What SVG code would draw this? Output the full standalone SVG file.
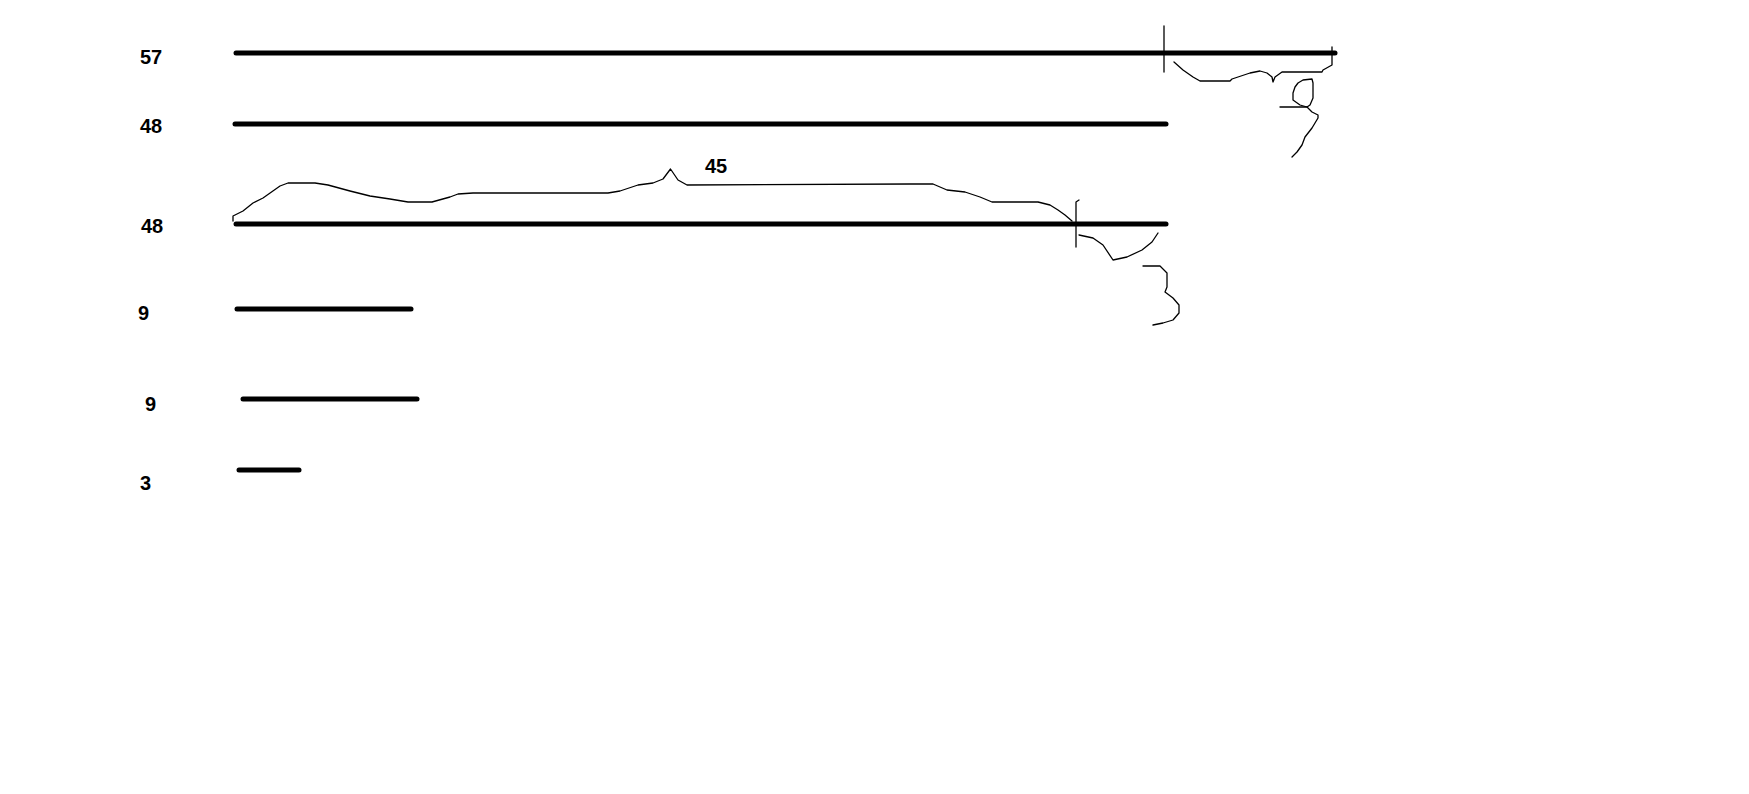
<svg xmlns="http://www.w3.org/2000/svg" width="1749" height="794" viewBox="0 0 1749 794">
<style>
.lbl{font-family:"Liberation Sans",Arial,sans-serif;font-weight:bold;font-size:20px;fill:#000}
.bar{stroke:#000;stroke-width:5;stroke-linecap:round;fill:none}
.hand{stroke:#000;stroke-width:1.3;fill:none;stroke-linejoin:round;stroke-linecap:round}
</style>
<rect width="1749" height="794" fill="#fff"/>
<g id="row-57">
<text class="lbl" x="140" y="64">57</text>
<line class="bar" x1="236" y1="53" x2="1335" y2="53"/>
</g>
<g id="row-48a">
<text class="lbl" x="140" y="133">48</text>
<line class="bar" x1="235" y1="124" x2="1166" y2="124"/>
</g>
<g id="row-48b">
<text class="lbl" x="141" y="233">48</text>
<line class="bar" x1="236" y1="224" x2="1166" y2="224"/>
</g>
<g id="row-9a">
<text class="lbl" x="138" y="320">9</text>
<line class="bar" x1="237" y1="309" x2="411" y2="309"/>
</g>
<g id="row-9b">
<text class="lbl" x="145" y="411">9</text>
<line class="bar" x1="243" y1="399" x2="417" y2="399"/>
</g>
<g id="row-3">
<text class="lbl" x="140" y="490">3</text>
<line class="bar" x1="239" y1="470" x2="299" y2="470"/>
</g>
<g id="brace-45">
<path class="hand" d="M233,221 L233,216 L243,211 L253,203 L263,198 L280,186 L288,183 L315,183 L328,185 L350,191 L370,196 L390,199 L408,202 L432,202 L450,197 L458,194 L473,193 L608,193 L620,191 L638,185 L653,183 L663,179 L670.5,169 L678,180 L687,185 L910,184 L933,184 L947,190 L965,192 L980,197 L992,202 L1038,202 L1050,205 L1058,210 L1065,215 L1072,221"/>
<text class="lbl" x="705" y="173">45</text>
</g>
<g id="annotation-3">
<path class="hand" d="M1076,247 L1076,202 L1079,200"/>
<path class="hand" d="M1079,235 L1093,238 L1103,245 L1113,260 L1127,257 L1142,250 L1152,242 L1158,233"/>
<path class="hand" d="M1143,266 L1160,266 L1167,273 L1167,287 L1165,292 L1173,298 L1179,305 L1179,313 L1173,320 L1163,323 L1153,325"/>
</g>
<g id="annotation-9">
<path class="hand" d="M1164,26 L1164,72"/>
<path class="hand" d="M1332,47 L1332,65 L1323,70 L1322,72 L1282,72 L1275,77 L1273,82 L1272,77 L1267,73 L1260,71 L1250,73 L1232,79 L1230,81 L1200,81 L1193,77 L1183,70 L1174,62"/>
<path class="hand" d="M1303,80 L1312,79 L1313,83 L1313,98 L1310,105 L1307,107 L1300,105 L1293,100 L1293,93 L1295,87 L1298,83 Z"/>
<path class="hand" d="M1280,107 L1307,107 L1312,112 L1318,115 L1318,118 L1312,128 L1305,137 L1302,145 L1297,152 L1292,157"/>
</g>
</svg>
